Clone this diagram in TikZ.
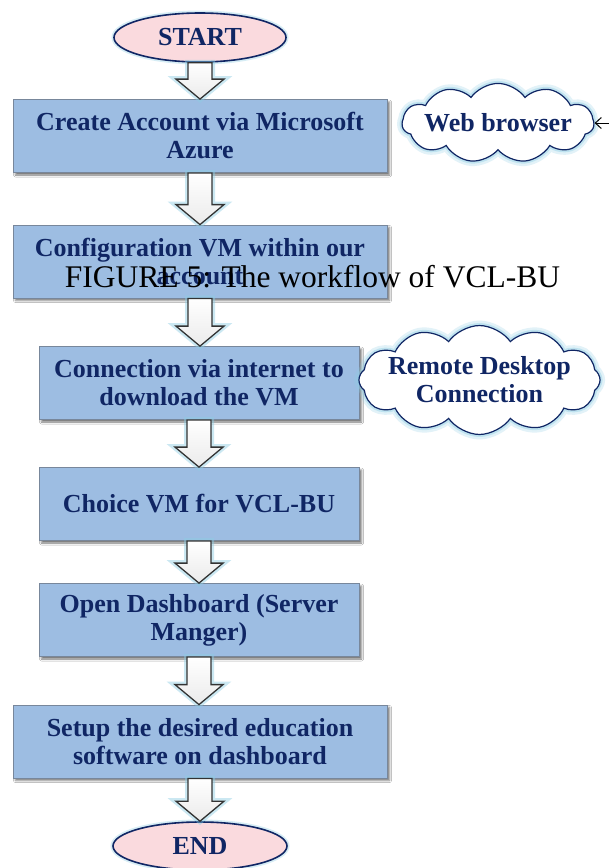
\documentclass[tikz,border=0pt]{standalone}
\usepackage{fontspec}
\setmainfont{Liberation Serif}
\usetikzlibrary{shapes.geometric,shapes.symbols,shadows.blur,calc,arrows.meta}

\definecolor{boxfill}{RGB}{157,189,226}
\definecolor{navy}{RGB}{16,38,100}
\definecolor{ovalfill}{RGB}{250,218,222}
\definecolor{glow}{RGB}{140,205,228}
\definecolor{boxedge}{RGB}{120,135,155}

\tikzset{
  labelfont/.style={font=\fontsize{26}{28}\selectfont\bfseries},
  stepbox/.style={rectangle, draw=boxedge, line width=0.8pt, fill=boxfill,
    text=navy, labelfont, align=center, inner sep=0pt,
    blur shadow={shadow xshift=2.5pt, shadow yshift=-2.5pt,
      shadow blur radius=2pt, shadow opacity=55}},
  widebox/.style={minimum width=374pt, minimum height=73pt},
  narrowbox/.style={minimum width=320pt, minimum height=73pt},
  terminal/.style={ellipse, draw=navy, line width=1.6pt, fill=ovalfill,
    text=navy, labelfont, inner sep=0pt,
    preaction={draw=glow, line width=5pt, opacity=0.35}},
  bubble/.style={cloud, cloud puff arc=110,
    draw=navy, line width=1.2pt, fill=white, text=navy, labelfont,
    align=center,
    preaction={draw=glow, line width=10pt, opacity=0.25},
    preaction={draw=glow, line width=5pt, opacity=0.4}},
  blockarrow/.style={draw=black!80, line width=1.3pt, line join=miter,
    top color=white, bottom color=black!8,
    preaction={draw=glow, line width=6pt, opacity=0.45}},
}

% hollow block arrow from the bottom of one node to the top of the next
\newcommand\flowarrow[2]{%
  \path[blockarrow] let \p1=(#1.south), \p2=(#2.north) in
    (\x1-12pt,\y1) -- (\x1+12pt,\y1) -- (\x1+12pt,\y2+20pt)
    -- (\x1+24pt,\y2+20pt) -- (\x1,\y2) -- (\x1-24pt,\y2+20pt)
    -- (\x1-12pt,\y2+20pt) -- cycle;}

\begin{document}
\begin{tikzpicture}[x=1pt, y=-1pt]
  \useasboundingbox (0,0) rectangle (609,868);
  \fill[white] (0,0) rectangle (609,868);

  % process steps
  \node[stepbox, widebox]  (b1) at (200,136)   {Create Account via Microsoft\\Azure};
  \node[stepbox, widebox]  (b2) at (200,261.5) {Configuration VM within our\\account};
  \node[stepbox, narrowbox](b3) at (199,383)   {Connection via internet to\\download the VM};
  \node[stepbox, narrowbox](b4) at (199,504)   {Choice VM for VCL-BU};
  \node[stepbox, narrowbox](b5) at (199,620)   {Open Dashboard (Server\\Manger)};
  \node[stepbox, widebox]  (b6) at (200,741.5) {Setup the desired education\\software on dashboard};

  % side notes
  \node[bubble, cloud puffs=11, aspect=3.6, inner sep=-6pt,
        minimum width=166pt, minimum height=44pt] (c1) at (498,123) {Web browser};
  \node[bubble, cloud puffs=12, aspect=3.0, inner sep=-7pt,
        minimum width=204pt, minimum height=64pt] (c2) at (479.5,380) {Remote Desktop\\Connection};
  \coordinate (wbsrc) at (640,123);
  \draw[line width=1pt, -{Straight Barb[length=6pt, width=11pt]}] (wbsrc) -- (c1.east);

  % start and end
  \node[terminal, minimum width=172pt, minimum height=49pt] (start) at (200,37.5) {START};
  \node[terminal, minimum width=174pt, minimum height=48pt] (finish) at (200,846) {END};

  % flow
  \flowarrow{start}{b1}
  \flowarrow{b1}{b2}
  \flowarrow{b2}{b3}
  \flowarrow{b3}{b4}
  \flowarrow{b4}{b5}
  \flowarrow{b5}{b6}
  \flowarrow{b6}{finish}

  % caption
  \node[font=\fontsize{31.5}{34}\selectfont, anchor=base, inner sep=0pt] (caption) at (312.5,287)
    {FIGURE 5: The workflow of VCL-BU};
\end{tikzpicture}
\end{document}
